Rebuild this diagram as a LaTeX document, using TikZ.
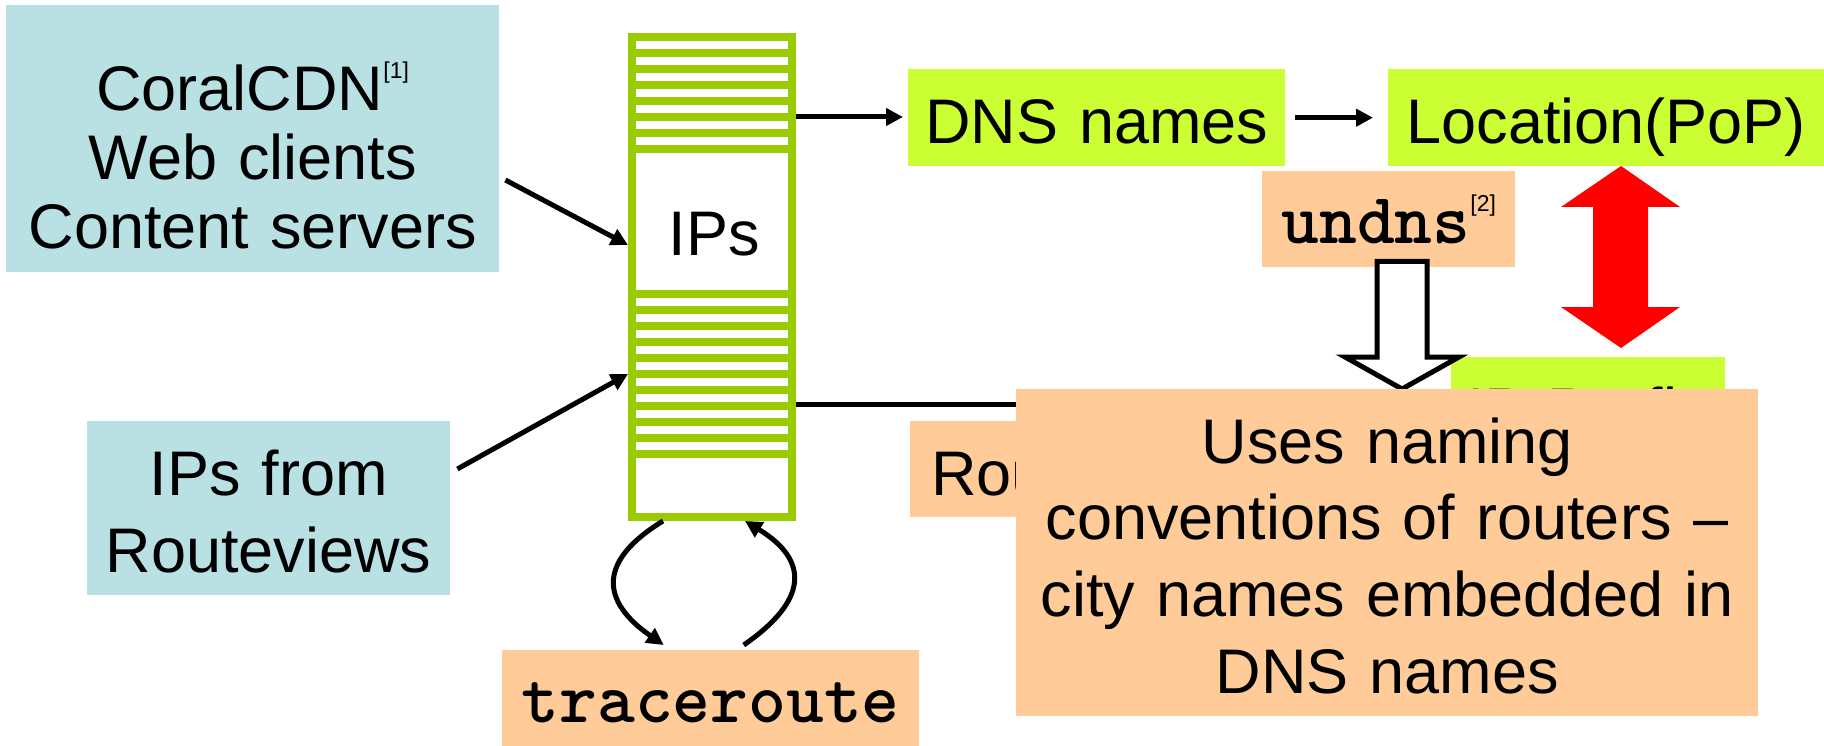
\documentclass[tikz,border=0pt]{standalone}
\usepackage{fontspec}
\setmainfont{Liberation Sans}
\usetikzlibrary{arrows.meta,calc}
\definecolor{cblue}{RGB}{185,224,227}
\definecolor{cpeach}{RGB}{255,204,153}
\definecolor{clime}{RGB}{204,255,51}
\definecolor{cgreen}{RGB}{153,204,0}
\newcommand\mainsz[1]{\fontsize{63}{#1}\selectfont}
\newcommand\supref[1]{\raisebox{32pt}{\fontsize{23}{23}\selectfont[#1]}}
\newcommand\monosz{\fontsize{72}{72}\selectfont\ttfamily\bfseries}
\begin{document}
\begin{tikzpicture}[x=1pt,y=-1pt,
  box/.style={inner sep=0pt, anchor=north west, align=center},
  arr/.style={line width=5pt, -{Triangle[length=17pt,width=17pt]}},
  stripe/.style={draw=cgreen, line width=8pt},
  hollow/.style={draw=black, fill=white, line width=5pt, miter limit=10},
  redarrow/.style={fill=red, draw=none}]
\useasboundingbox (0,0) rectangle (1824,746);

% boxes
\node[box, fill=cblue, text width=493pt, text height=105pt, text depth=162pt, font=\mainsz{69}] (coral) at (6,5)
  {CoralCDN\supref{1}\\Web clients\\Content servers};
\node[box, fill=cblue, text width=363pt, text height=74pt, text depth=100pt, font=\mainsz{77}] (rv) at (87,421)
  {IPs from\\Routeviews};
\node[box, fill=clime, text width=377pt, text height=74pt, text depth=23pt, font=\mainsz{77}] (dns) at (908,69) {DNS names};
\node[box, fill=clime, text width=436pt, text height=74pt, text depth=23pt, font=\mainsz{77}] (loc) at (1388,69) {Location(PoP)};
\node[box, fill=cpeach, text width=253pt, text height=72pt, text depth=24pt] (undns) at (1262,171)
  {{\monosz undns}\supref{2}};
\node[box, fill=clime, text width=274pt, text height=75pt, text depth=25pt, font=\mainsz{77}] (ipp) at (1451,357) {IP Prefix};
\node[box, fill=cpeach, text width=200pt, text height=74pt, text depth=22pt, align=left, font=\mainsz{77}] (rou) at (910,421)
  {\hspace*{21pt}Rou};
\node[box, fill=cpeach, text width=417pt, text height=72pt, text depth=26pt] (tr) at (502,650) {\monosz traceroute};

% IP column
\node[draw=cgreen, line width=8pt, fill=white, minimum width=160pt, minimum height=480pt, inner sep=0pt] (col) at (712,277) {};
\foreach \y in {53,69,...,149} \draw[stripe] (col.west |- 0,\y) -- (col.east |- 0,\y);
\foreach \y in {293.5,309.5,...,453.5} \draw[stripe] (col.west |- 0,\y) -- (col.east |- 0,\y);
\node[anchor=base, inner sep=0pt, font=\mainsz{77}] (ips) at (714,255) {IPs};

% connectors
\draw[arr] ($(coral.north east)+(6,175)$) -- (col.west |- 0,245);
\draw[arr] ($(rv.north east)+(7,48)$) -- (col.west |- 0,374);
\draw[arr, shorten >=5pt] (col.east |- 0,117) -- (dns.west |- 0,117);
\draw[arr, shorten <=10pt, shorten >=15pt] (dns.east) -- (loc.west);
\draw[arr] (col.east |- 0,404) -- (ipp.west |- 0,404);
\draw[arr] (col.south -| 663,0) .. controls (599,560) and (599,600) .. ($(tr.north)+(-47,-5)$);
\draw[arr] ($(tr.north)+(33,-5)$) .. controls (809,600) and (809,560) .. (col.south -| 745,0);

% hollow block arrow from undns
\draw[hollow] (1377,261.5) -- (1377,357) -- (1345,357) -- (1402,389) -- (1459,357) -- (1427,357) -- (1427,261.5) -- cycle;

% red double arrow
\fill[redarrow] (1621,166) -- (1680,207) -- (1648,207) -- (1648,307) -- (1680,307) -- (1621,348)
  -- (1561,307) -- (1593,307) -- (1593,207) -- (1561,207) -- cycle;

% overlay box
\node[box, fill=cpeach, text width=742pt, text height=74pt, text depth=253pt, font=\mainsz{76.7}] (big) at (1016,389)
  {Uses naming\\conventions of routers –\\city names embedded in\\DNS names};
\end{tikzpicture}
\end{document}
